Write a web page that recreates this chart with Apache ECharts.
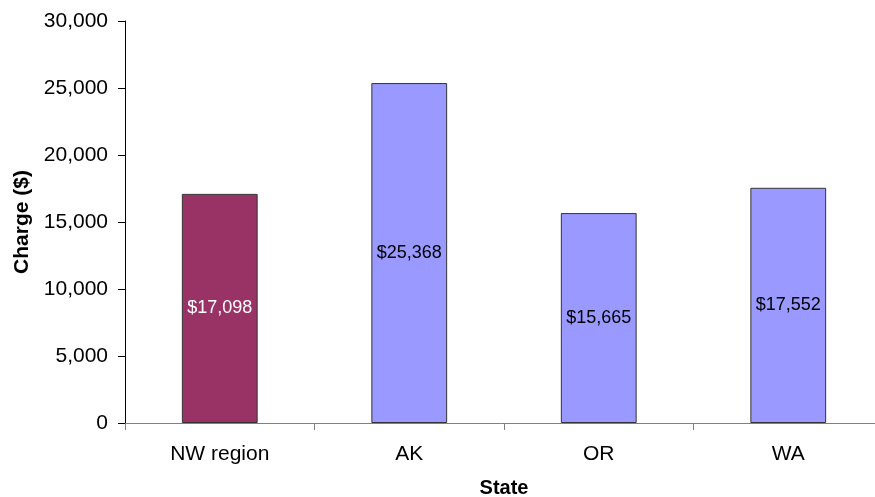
<!DOCTYPE html>
<html><head><meta charset="utf-8">
<script src="https://cdn.jsdelivr.net/npm/echarts@6/dist/echarts.min.js"></script>
<style>html,body{margin:0;padding:0;background:#fff}#c{width:875px;height:497px}</style>
</head><body><div id="c"></div>
<script>
const categories = ['NW region', 'AK', 'OR', 'WA'];
const charges = [17098, 25368, 15665, 17552];
const barColors = ['#993366', '#9999FF', '#9999FF', '#9999FF'];
const labelColors = ['#ffffff', '#000000', '#000000', '#000000'];
const yTicks = [0, 5000, 10000, 15000, 20000, 25000, 30000];

const font = 'Liberation Sans, Arial, sans-serif';
const chart = echarts.init(document.getElementById('c'));
chart.setOption({
  animation: false,
  backgroundColor: '#ffffff',
  grid: { left: 125, top: 21, width: 758, height: 402, containLabel: false, outerBoundsMode: 'none' },
  xAxis: {
    type: 'category',
    data: categories,
    name: 'State',
    nameLocation: 'middle',
    nameGap: 55,
    nameTextStyle: { fontFamily: font, fontSize: 20, fontWeight: 'bold', color: '#000' },
    axisLine: { lineStyle: { color: '#808080', width: 1 } },
    axisTick: { show: true, alignWithLabel: false, length: 7, lineStyle: { color: '#808080' } },
    axisLabel: { fontFamily: font, fontSize: 21, color: '#000', margin: 21 },
    splitLine: { show: false }
  },
  yAxis: {
    type: 'value',
    min: yTicks[0],
    max: yTicks[yTicks.length - 1],
    interval: 5000,
    name: 'Charge ($)',
    nameLocation: 'middle',
    nameGap: 92,
    nameTextStyle: { fontFamily: font, fontSize: 21, fontWeight: 'bold', color: '#000' },
    axisLine: { show: true, lineStyle: { color: '#000', width: 1 } },
    axisTick: { show: true, length: 7, lineStyle: { color: '#000' } },
    axisLabel: {
      fontFamily: font, fontSize: 21, color: '#000', margin: 17,
      formatter: v => v.toLocaleString('en-US')
    },
    splitLine: { show: false }
  },
  series: [{
    type: 'bar',
    barWidth: '40%',
    data: charges.map((v, i) => ({
      value: v,
      itemStyle: { color: barColors[i], borderColor: '#333333', borderWidth: 1 },
      label: { color: labelColors[i] }
    })),
    label: {
      show: true,
      position: 'inside',
      fontFamily: font,
      fontSize: 18,
      formatter: p => '$' + p.value.toLocaleString('en-US')
    }
  }]
});
</script></body></html>
